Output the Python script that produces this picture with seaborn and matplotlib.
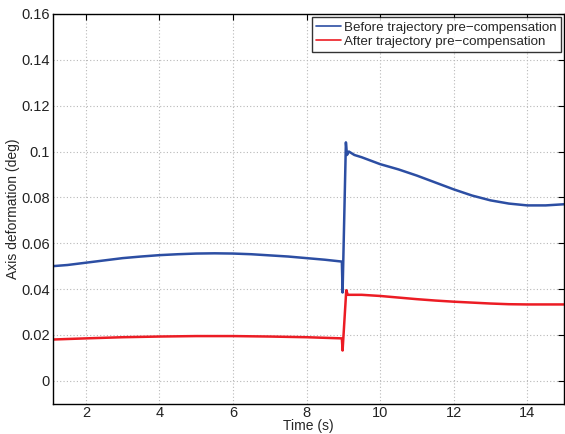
"""
plot.py — axis deformation before / after trajectory pre-compensation.
"""

import numpy as np
import pandas as pd
import matplotlib
matplotlib.use("Agg")
import matplotlib.pyplot as plt
import seaborn as sns

# values
time_before = [1.1, 1.5, 2.0, 2.5, 3.0, 3.5, 4.0, 4.5, 5.0, 5.5, 6.0, 6.5, 7.0,
               7.5, 8.0, 8.5, 8.96, 8.98, 9.07, 9.10, 9.15, 9.3, 9.5, 10.0,
               10.5, 11.0, 11.5, 12.0, 12.5, 13.0, 13.5, 14.0, 14.5, 15.0]
deform_before = [0.0500, 0.0505, 0.0515, 0.0525, 0.0535, 0.0542, 0.0548,
                 0.0552, 0.0555, 0.0556, 0.0555, 0.0552, 0.0547, 0.0542,
                 0.0535, 0.0528, 0.0520, 0.0385, 0.1040, 0.0985, 0.1000,
                 0.0985, 0.0975, 0.0945, 0.0922, 0.0895, 0.0865, 0.0835,
                 0.0808, 0.0787, 0.0773, 0.0765, 0.0765, 0.0770]

time_after = [1.1, 2.0, 3.0, 4.0, 5.0, 6.0, 7.0, 8.0, 8.96, 8.98, 9.08,
              9.12, 9.5, 10.0, 10.5, 11.0, 11.5, 12.0, 12.5, 13.0, 13.5,
              14.0, 14.5, 15.0]
deform_after = [0.0180, 0.0185, 0.0190, 0.0193, 0.0195, 0.0195, 0.0193,
                0.0190, 0.0185, 0.0132, 0.0395, 0.0375, 0.0375, 0.0370,
                0.0363, 0.0356, 0.0350, 0.0345, 0.0341, 0.0337, 0.0334,
                0.0333, 0.0333, 0.0333]

labels = ["Before trajectory pre\u2212compensation",
          "After trajectory pre\u2212compensation"]
colors = ["#2c4ea3", "#ec1c24"]

x_ticks = [2, 4, 6, 8, 10, 12, 14]
y_ticks = [0, 0.02, 0.04, 0.06, 0.08, 0.1, 0.12, 0.14, 0.16]
y_ticklabels = ["0", "0.02", "0.04", "0.06", "0.08", "0.1", "0.12", "0.14", "0.16"]

df = pd.concat([
    pd.DataFrame({"t": time_before, "d": deform_before, "series": labels[0]}),
    pd.DataFrame({"t": time_after, "d": deform_after, "series": labels[1]}),
], ignore_index=True)

sns.set_style("white")
plt.rcParams["font.family"] = ["Liberation Sans", "DejaVu Sans"]

fig = plt.figure(figsize=(5.65, 4.34), dpi=100)
ax = fig.add_axes([0.0933, 0.0698, 0.905, 0.898])

sns.lineplot(data=df, x="t", y="d", hue="series", hue_order=labels,
             palette=colors, linewidth=1.8, sort=False, estimator=None,
             ax=ax)

ax.set_xlim(1.1, 15)
ax.set_ylim(-0.01, 0.16)
ax.set_xticks(x_ticks)
ax.set_xticklabels([str(v) for v in x_ticks])
ax.set_yticks(y_ticks)
ax.set_yticklabels(y_ticklabels)

ax.grid(True, linestyle=(0, (1, 2)), color="#b8b8b8", linewidth=0.8)
for s in ax.spines.values():
    s.set_color("black")
    s.set_linewidth(1.0)
    s.set_visible(True)
ax.tick_params(direction="in", length=4, width=0.8, top=True, right=True,
               labelsize=10.5, colors="black", labelcolor="#222222", pad=2)

ax.set_xlabel("Time (s)", fontsize=10, labelpad=-1)
ax.set_ylabel("Axis deformation (deg)", fontsize=10, labelpad=1)

leg = ax.legend(loc="upper right", fontsize=9.6, frameon=True, fancybox=False,
                handlelength=1.9, handletextpad=0.2, borderpad=0.3,
                labelspacing=0.15, borderaxespad=0.25)
leg.get_frame().set_edgecolor("black")
leg.get_frame().set_linewidth(1.0)
for h in leg.get_lines():
    h.set_linewidth(1.2)

plt.savefig("out.png", dpi=100)
plt.close()
